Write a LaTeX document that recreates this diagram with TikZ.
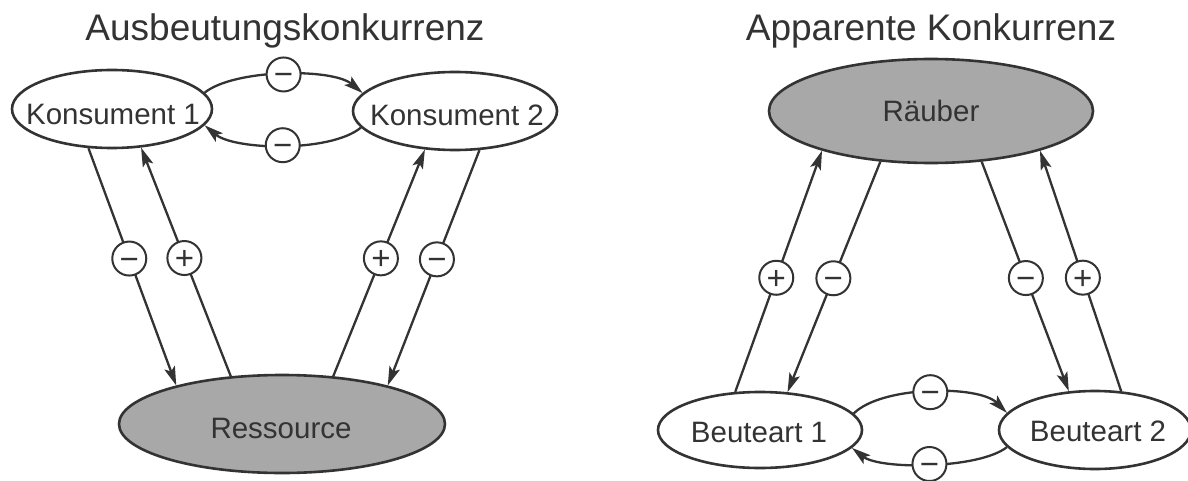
\documentclass[tikz,border=0pt]{standalone}
\usepackage{fontspec}
\setmainfont{Liberation Sans}
\usetikzlibrary{shapes.geometric,arrows.meta}
\definecolor{ink}{HTML}{333333}
\definecolor{shade}{HTML}{A8A8A8}
\begin{document}
\begin{tikzpicture}[x=1pt,y=-1pt,
  ell/.style={ellipse,draw=ink,line width=2.6pt,inner sep=0pt},
  openell/.style={ell,fill=white},
  darkell/.style={ell,fill=shade},
  lbl/.style={anchor=base,font=\fontsize{29.5}{30}\selectfont,text=ink,inner sep=0pt},
  ttl/.style={anchor=base,font=\fontsize{37}{40}\selectfont,text=ink,inner sep=0pt},
  sgn/.style={circle,draw=ink,fill=white,line width=2pt,minimum size=34pt,inner sep=0pt,
    text height=23pt,text depth=0pt,font=\fontsize{33}{33}\selectfont,text=ink},
  arr/.style={draw=ink,line width=2.3pt,-{Stealth[length=19pt,width=11pt,inset=4pt]}},
]
\fill[white] (0,0) rectangle (1188,481);
\useasboundingbox (0,0) rectangle (1188,481);

% ---------- left: Ausbeutungskonkurrenz ----------
\node[ttl] (t1) at (285,41) {Ausbeutungskonkurrenz};
\node[openell,minimum width=200pt,minimum height=78pt] (k1) at (112,109) {};
\node[lbl] (k1t) at (113,125) {Konsument 1};
\node[openell,minimum width=204pt,minimum height=78pt] (k2) at (455,111) {};
\node[lbl] (k2t) at (457,126) {Konsument 2};
\node[darkell,minimum width=326pt,minimum height=98pt] (res) at (282,424) {};
\node[lbl] (rest) at (281,438) {Ressource};

\draw[arr] (k1.-121.6) -- (res.160) node[sgn,pos=0.465] (s1) {−};
\draw[arr] (res.137) -- (k1.-53) node[sgn,pos=0.517] (s2) {+};
\draw[arr] (res.43) -- (k2.-128) node[sgn,pos=0.52] (s3) {+};
\draw[arr] (k2.-58) -- (res.20) node[sgn,pos=0.464] (s4) {−};

\draw[arr] (k1.10) .. controls +(30,-24) and +(-30,-25) .. (k2.169) node[sgn,pos=0.5] (s5) {−};
\draw[arr] (k2.-170) .. controls +(-30,25) and +(30,25) .. (k1.-10.6) node[sgn,pos=0.5] (s6) {−};

% ---------- right: Apparente Konkurrenz ----------
\node[ttl] (t2) at (931,41) {Apparente Konkurrenz};
\node[darkell,minimum width=324pt,minimum height=104pt] (rb) at (931,111) {};
\node[lbl] (rbt) at (931,122) {Räuber};
\node[openell,minimum width=204pt,minimum height=76pt] (b1) at (760,430) {};
\node[lbl] (b1t) at (759,442) {Beuteart 1};
\node[openell,minimum width=192pt,minimum height=78pt] (b2) at (1095,430) {};
\node[lbl] (b2t) at (1098,441) {Beuteart 2};

\draw[arr] (b1.123) -- (rb.-160) node[sgn,pos=0.473] (s7) {+};
\draw[arr] (rb.-135) -- (b1.54) node[sgn,pos=0.506] (s8) {−};
\draw[arr] (rb.-45) -- (b2.124) node[sgn,pos=0.507] (s9) {−};
\draw[arr] (b2.56) -- (rb.-20) node[sgn,pos=0.472] (s10) {+};

\draw[arr] (b1.10) .. controls +(28,-28) and +(-28,-28) .. (b2.169) node[sgn,pos=0.5] (s11) {−};
\draw[arr] (b2.-169) .. controls +(-28,22) and +(28,22) .. (b1.-11) node[sgn,pos=0.5] (s12) {−};
\end{tikzpicture}
\end{document}
